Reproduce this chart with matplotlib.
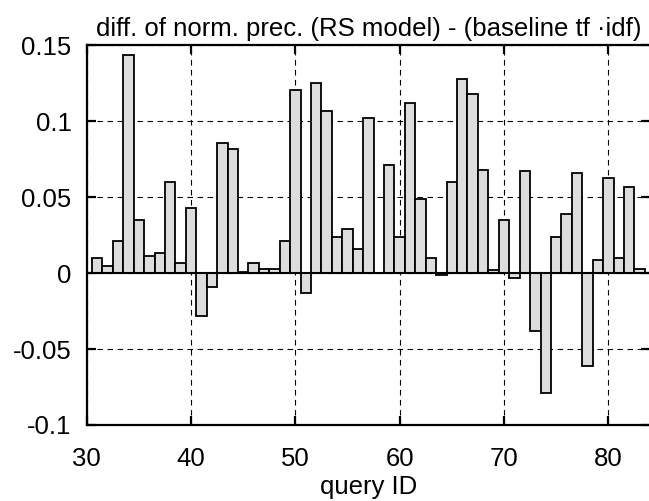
import numpy as np
import matplotlib
matplotlib.use('Agg')
import matplotlib.pyplot as plt

plt.rcParams['font.family'] = ['Liberation Sans', 'DejaVu Sans']

# per-query difference of normalized precision
query_ids = list(range(31, 84))
diff_prec = [0.010, 0.005, 0.021, 0.144, 0.035, 0.011, 0.013, 0.060, 0.007, 0.043,
             -0.028, -0.009, 0.086, 0.082, 0.001, 0.007, 0.003, 0.003, 0.021, 0.121,
             -0.013, 0.125, 0.107, 0.024, 0.029, 0.016, 0.102, 0.000, 0.071, 0.024,
             0.112, 0.049, 0.010, -0.0015, 0.060, 0.128, 0.118, 0.068, 0.002, 0.035,
             -0.003, 0.067, -0.038, -0.079, 0.024, 0.039, 0.066, -0.061, 0.009, 0.063,
             0.010, 0.057, 0.003]

xticks = [30, 40, 50, 60, 70, 80]
yticks = [-0.1, -0.05, 0, 0.05, 0.1, 0.15]
ytick_labels = ['-0.1', '-0.05', '0', '0.05', '0.1', '0.15']

FS = 18.5

fig = plt.figure(figsize=(6.49, 5.01), dpi=100)
ax = fig.add_axes([0.1336, 0.1517, 0.868, 0.7575])

ax.bar(query_ids, diff_prec, width=1.0, color='#dddddd', edgecolor='black',
       linewidth=1.3, zorder=3)
ax.axhline(0, color='black', linewidth=1.5, zorder=4)

ax.set_xlim(30, 84)
ax.set_ylim(-0.1, 0.15)
ax.set_xticks(xticks)
ax.set_xticklabels([str(t) for t in xticks])
ax.set_yticks(yticks)
ax.set_yticklabels(ytick_labels)

ax.grid(True, color='black', linestyle=(0, (5, 4)), linewidth=0.8, zorder=1)

for sp in ax.spines.values():
    sp.set_linewidth(1.6)

ax.tick_params(direction='in', length=6.5, width=1.6, top=True, right=True,
               labelsize=FS)
ax.tick_params(axis='y', pad=11)
ax.tick_params(axis='x', pad=16)

ax.set_title('diff. of norm. prec. (RS model) - (baseline tf \u00b7idf)',
             fontsize=FS, pad=7)
ax.set_xlabel('query ID', fontsize=FS, labelpad=3)

fig.savefig('out.png', dpi=100)
